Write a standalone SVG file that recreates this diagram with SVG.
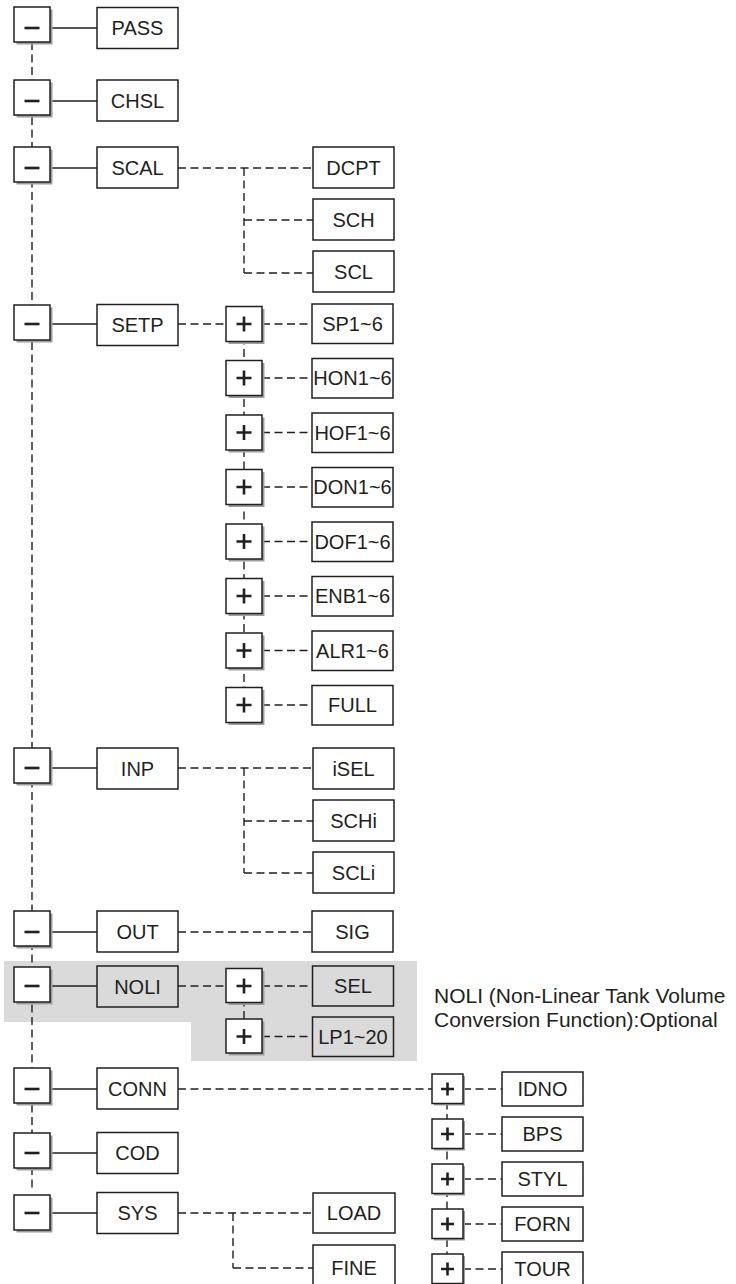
<svg xmlns="http://www.w3.org/2000/svg" width="736" height="1284" viewBox="0 0 736 1284">
<style>
.bx{fill:#fff;stroke:#231f20;stroke-width:1.5}
.gb{fill:none;stroke:#231f20;stroke-width:1.5}
.sh{fill:#9d9d9d}
.g{stroke:#231f20;stroke-width:2.6;fill:none}
.sl{stroke:#231f20;stroke-width:1.5;fill:none}
.dl{stroke:#231f20;stroke-width:1.4;fill:none;stroke-dasharray:8 4.5}
text{font-family:"Liberation Sans",Arial,sans-serif;font-size:20px;fill:#231f20;text-anchor:middle}
.note{font-size:21px;text-anchor:start}
</style>
<rect width="736" height="1284" fill="#fff"/>
<path d="M4 961H417V1061H191V1022H4Z" fill="#dadada"/>

<g id="connectors">
  <line class="dl" x1="32" y1="42" x2="32" y2="1192"/>
  <line class="sl" x1="50" y1="28" x2="97" y2="28"/>
  <line class="sl" x1="50" y1="101" x2="97" y2="101"/>
  <line class="sl" x1="50" y1="168" x2="97" y2="168"/>
  <line class="sl" x1="50" y1="324" x2="97" y2="324"/>
  <line class="sl" x1="50" y1="768" x2="97" y2="768"/>
  <line class="sl" x1="50" y1="932" x2="97" y2="932"/>
  <line class="sl" x1="50" y1="986" x2="97" y2="986"/>
  <line class="sl" x1="50" y1="1089" x2="97" y2="1089"/>
  <line class="sl" x1="50" y1="1153" x2="97" y2="1153"/>
  <line class="sl" x1="50" y1="1213" x2="97" y2="1213"/>
  <!-- SCAL -->
  <line class="dl" x1="178" y1="168" x2="313" y2="168"/>
  <line class="dl" x1="244" y1="168" x2="244" y2="273"/>
  <line class="dl" x1="244" y1="220" x2="313" y2="220"/>
  <line class="dl" x1="244" y1="273" x2="313" y2="273"/>
  <!-- SETP -->
  <line class="dl" x1="178" y1="324" x2="226" y2="324"/>
  <line class="dl" x1="244" y1="324" x2="244" y2="705"/>
  <line class="dl" x1="262" y1="324" x2="313" y2="324"/>
  <line class="dl" x1="262" y1="378" x2="313" y2="378"/>
  <line class="dl" x1="262" y1="432.5" x2="313" y2="432.5"/>
  <line class="dl" x1="262" y1="487" x2="313" y2="487"/>
  <line class="dl" x1="262" y1="541.5" x2="313" y2="541.5"/>
  <line class="dl" x1="262" y1="596" x2="313" y2="596"/>
  <line class="dl" x1="262" y1="650.5" x2="313" y2="650.5"/>
  <line class="dl" x1="262" y1="705" x2="313" y2="705"/>
  <!-- INP -->
  <line class="dl" x1="178" y1="768" x2="313" y2="768"/>
  <line class="dl" x1="244" y1="768" x2="244" y2="873"/>
  <line class="dl" x1="244" y1="821" x2="313" y2="821"/>
  <line class="dl" x1="244" y1="873" x2="313" y2="873"/>
  <!-- OUT -->
  <line class="dl" x1="178" y1="932" x2="312" y2="932"/>
  <!-- NOLI -->
  <line class="dl" x1="178" y1="986" x2="226" y2="986"/>
  <line class="dl" x1="244" y1="986" x2="244" y2="1036"/>
  <line class="dl" x1="262" y1="986" x2="313" y2="986"/>
  <line class="dl" x1="262" y1="1036.5" x2="313" y2="1036.5"/>
  <!-- CONN -->
  <line class="dl" x1="178" y1="1089" x2="432" y2="1089"/>
  <line class="dl" x1="447" y1="1089" x2="447" y2="1269"/>
  <line class="dl" x1="463" y1="1089" x2="502" y2="1089"/>
  <line class="dl" x1="463" y1="1134" x2="502" y2="1134"/>
  <line class="dl" x1="463" y1="1179" x2="502" y2="1179"/>
  <line class="dl" x1="463" y1="1224" x2="502" y2="1224"/>
  <line class="dl" x1="463" y1="1269" x2="502" y2="1269"/>
  <!-- SYS -->
  <line class="dl" x1="178" y1="1213" x2="313" y2="1213"/>
  <line class="dl" x1="233" y1="1213" x2="233" y2="1268"/>
  <line class="dl" x1="233" y1="1268" x2="313" y2="1268"/>
</g>

<!-- minus toggles -->
<g id="m-pass"><rect class="sh" x="16.5" y="9.5" width="36" height="35"/><rect class="bx" x="14" y="7" width="36" height="35"/><line class="g" x1="24.5" y1="28" x2="39.5" y2="28"/></g>
<g id="m-chsl"><rect class="sh" x="16.5" y="82.5" width="36" height="35"/><rect class="bx" x="14" y="80" width="36" height="35"/><line class="g" x1="24.5" y1="101" x2="39.5" y2="101"/></g>
<g id="m-scal"><rect class="sh" x="16.5" y="149.5" width="36" height="35"/><rect class="bx" x="14" y="147" width="36" height="35"/><line class="g" x1="24.5" y1="168" x2="39.5" y2="168"/></g>
<g id="m-setp"><rect class="sh" x="16.5" y="307.5" width="36" height="35"/><rect class="bx" x="14" y="305" width="36" height="35"/><line class="g" x1="24.5" y1="324" x2="39.5" y2="324"/></g>
<g id="m-inp"><rect class="sh" x="16.5" y="750.5" width="36" height="35"/><rect class="bx" x="14" y="748" width="36" height="35"/><line class="g" x1="24.5" y1="768" x2="39.5" y2="768"/></g>
<g id="m-out"><rect class="sh" x="16.5" y="913.5" width="36" height="35"/><rect class="bx" x="14" y="911" width="36" height="35"/><line class="g" x1="24.5" y1="932" x2="39.5" y2="932"/></g>
<g id="m-noli"><rect class="sh" x="16.5" y="969.5" width="36" height="35"/><rect class="bx" x="14" y="967" width="36" height="35"/><line class="g" x1="24.5" y1="986" x2="39.5" y2="986"/></g>
<g id="m-conn"><rect class="sh" x="16.5" y="1070.5" width="36" height="35"/><rect class="bx" x="14" y="1068" width="36" height="35"/><line class="g" x1="24.5" y1="1089" x2="39.5" y2="1089"/></g>
<g id="m-cod"><rect class="sh" x="16.5" y="1135.5" width="36" height="35"/><rect class="bx" x="14" y="1133" width="36" height="35"/><line class="g" x1="24.5" y1="1153" x2="39.5" y2="1153"/></g>
<g id="m-sys"><rect class="sh" x="16.5" y="1197.5" width="36" height="35"/><rect class="bx" x="14" y="1195" width="36" height="35"/><line class="g" x1="24.5" y1="1213" x2="39.5" y2="1213"/></g>

<!-- main nodes -->
<g id="n-pass"><rect class="bx" x="97" y="7.5" width="81" height="41"/><text x="137.5" y="35">PASS</text></g>
<g id="n-chsl"><rect class="bx" x="97" y="80" width="81" height="41"/><text x="137.5" y="108">CHSL</text></g>
<g id="n-scal"><rect class="bx" x="97" y="147" width="81" height="41"/><text x="137.5" y="175">SCAL</text></g>
<g id="n-setp"><rect class="bx" x="97" y="304.5" width="81" height="41"/><text x="137.5" y="332">SETP</text></g>
<g id="n-inp"><rect class="bx" x="97" y="748" width="81" height="41"/><text x="137.5" y="776">INP</text></g>
<g id="n-out"><rect class="bx" x="97" y="911" width="81" height="41"/><text x="137.5" y="939">OUT</text></g>
<g id="n-noli"><rect class="gb" x="97" y="966" width="81" height="41"/><text x="137.5" y="994">NOLI</text></g>
<g id="n-conn"><rect class="bx" x="97" y="1068" width="81" height="41"/><text x="137.5" y="1096">CONN</text></g>
<g id="n-cod"><rect class="bx" x="97" y="1132.5" width="81" height="41"/><text x="137.5" y="1160">COD</text></g>
<g id="n-sys"><rect class="bx" x="97" y="1192.5" width="81" height="41"/><text x="137.5" y="1220">SYS</text></g>

<!-- SCAL children -->
<g id="n-dcpt"><rect class="bx" x="313" y="147" width="81" height="41"/><text x="353.5" y="175">DCPT</text></g>
<g id="n-sch"><rect class="bx" x="313" y="199" width="81" height="41"/><text x="353.5" y="227">SCH</text></g>
<g id="n-scl"><rect class="bx" x="313" y="251" width="81" height="41"/><text x="353.5" y="279">SCL</text></g>

<!-- SETP plus toggles -->
<g id="p-sp"><rect class="sh" x="228.5" y="309" width="36" height="35"/><rect class="bx" x="226" y="306.5" width="36" height="35"/><path class="g" d="M236.5 324H251.5M244 316.5V331.5"/></g>
<g id="p-hon"><rect class="sh" x="228.5" y="363" width="36" height="35"/><rect class="bx" x="226" y="360.5" width="36" height="35"/><path class="g" d="M236.5 378H251.5M244 370.5V385.5"/></g>
<g id="p-hof"><rect class="sh" x="228.5" y="417.5" width="36" height="35"/><rect class="bx" x="226" y="415" width="36" height="35"/><path class="g" d="M236.5 432.5H251.5M244 425V440"/></g>
<g id="p-don"><rect class="sh" x="228.5" y="472" width="36" height="35"/><rect class="bx" x="226" y="469.5" width="36" height="35"/><path class="g" d="M236.5 487H251.5M244 479.5V494.5"/></g>
<g id="p-dof"><rect class="sh" x="228.5" y="526.5" width="36" height="35"/><rect class="bx" x="226" y="524" width="36" height="35"/><path class="g" d="M236.5 541.5H251.5M244 534V549"/></g>
<g id="p-enb"><rect class="sh" x="228.5" y="581" width="36" height="35"/><rect class="bx" x="226" y="578.5" width="36" height="35"/><path class="g" d="M236.5 596H251.5M244 588.5V603.5"/></g>
<g id="p-alr"><rect class="sh" x="228.5" y="635.5" width="36" height="35"/><rect class="bx" x="226" y="633" width="36" height="35"/><path class="g" d="M236.5 650.5H251.5M244 643V658"/></g>
<g id="p-full"><rect class="sh" x="228.5" y="690" width="36" height="35"/><rect class="bx" x="226" y="687.5" width="36" height="35"/><path class="g" d="M236.5 705H251.5M244 697.5V712.5"/></g>

<!-- SETP children -->
<g id="n-sp"><rect class="bx" x="312" y="304" width="81" height="39.5"/><text x="352.5" y="331">SP1~6</text></g>
<g id="n-hon"><rect class="bx" x="312" y="358.5" width="81" height="39.5"/><text x="352.5" y="385">HON1~6</text></g>
<g id="n-hof"><rect class="bx" x="312" y="413" width="81" height="39.5"/><text x="352.5" y="439.5">HOF1~6</text></g>
<g id="n-don"><rect class="bx" x="312" y="467.5" width="81" height="39.5"/><text x="352.5" y="494">DON1~6</text></g>
<g id="n-dof"><rect class="bx" x="312" y="522" width="81" height="39.5"/><text x="352.5" y="548.5">DOF1~6</text></g>
<g id="n-enb"><rect class="bx" x="312" y="576.5" width="81" height="39.5"/><text x="352.5" y="603">ENB1~6</text></g>
<g id="n-alr"><rect class="bx" x="312" y="631" width="81" height="39.5"/><text x="352.5" y="657.5">ALR1~6</text></g>
<g id="n-full"><rect class="bx" x="312" y="685.5" width="81" height="39.5"/><text x="352.5" y="712">FULL</text></g>

<!-- INP children -->
<g id="n-isel"><rect class="bx" x="313" y="748" width="81" height="41"/><text x="353.5" y="776">iSEL</text></g>
<g id="n-schi"><rect class="bx" x="313" y="800" width="81" height="41"/><text x="353.5" y="828">SCHi</text></g>
<g id="n-scli"><rect class="bx" x="313" y="852" width="81" height="41"/><text x="353.5" y="880">SCLi</text></g>

<!-- OUT child -->
<g id="n-sig"><rect class="bx" x="312" y="911" width="81" height="41"/><text x="352.5" y="939">SIG</text></g>

<!-- NOLI -->
<g id="p-sel"><rect class="sh" x="228.5" y="971" width="36" height="34"/><rect class="bx" x="226" y="968.5" width="36" height="34"/><path class="g" d="M236.5 986H251.5M244 978.5V993.5"/></g>
<g id="p-lp"><rect class="sh" x="228.5" y="1021.5" width="36" height="34"/><rect class="bx" x="226" y="1019" width="36" height="34"/><path class="g" d="M236.5 1036.5H251.5M244 1029V1044"/></g>
<g id="n-sel"><rect class="gb" x="312.5" y="966" width="81" height="40"/><text x="353" y="993">SEL</text></g>
<g id="n-lp"><rect class="gb" x="312.5" y="1017" width="81" height="39.5"/><text x="353" y="1043.5">LP1~20</text></g>
<g id="note"><text class="note" x="434" y="1003">NOLI (Non-Linear Tank Volume</text><text class="note" x="434" y="1027">Conversion Function):Optional</text></g>

<!-- CONN children -->
<g id="p-idno"><rect class="sh" x="434" y="1076" width="31" height="29.5"/><rect class="bx" x="432" y="1074" width="31" height="29.5"/><path class="g" d="M441 1089H454M447.5 1082.5V1095.5"/></g>
<g id="p-bps"><rect class="sh" x="434" y="1121" width="31" height="29.5"/><rect class="bx" x="432" y="1119" width="31" height="29.5"/><path class="g" d="M441 1134H454M447.5 1127.5V1140.5"/></g>
<g id="p-styl"><rect class="sh" x="434" y="1166" width="31" height="29.5"/><rect class="bx" x="432" y="1164" width="31" height="29.5"/><path class="g" d="M441 1179H454M447.5 1172.5V1185.5"/></g>
<g id="p-forn"><rect class="sh" x="434" y="1211" width="31" height="29.5"/><rect class="bx" x="432" y="1209" width="31" height="29.5"/><path class="g" d="M441 1224H454M447.5 1217.5V1230.5"/></g>
<g id="p-tour"><rect class="sh" x="434" y="1256" width="31" height="29.5"/><rect class="bx" x="432" y="1254" width="31" height="29.5"/><path class="g" d="M441 1269H454M447.5 1262.5V1275.5"/></g>
<g id="n-idno"><rect class="bx" x="502" y="1072" width="81" height="34"/><text x="542.5" y="1096">IDNO</text></g>
<g id="n-bps"><rect class="bx" x="502" y="1117" width="81" height="34"/><text x="542.5" y="1141">BPS</text></g>
<g id="n-styl"><rect class="bx" x="502" y="1162" width="81" height="34"/><text x="542.5" y="1186">STYL</text></g>
<g id="n-forn"><rect class="bx" x="502" y="1207" width="81" height="34"/><text x="542.5" y="1231">FORN</text></g>
<g id="n-tour"><rect class="bx" x="502" y="1252" width="81" height="40"/><text x="542.5" y="1276">TOUR</text></g>

<!-- SYS children -->
<g id="n-load"><rect class="bx" x="313" y="1193" width="82" height="40"/><text x="354" y="1220">LOAD</text></g>
<g id="n-fine"><rect class="bx" x="313" y="1245" width="82" height="45"/><text x="354" y="1275">FINE</text></g>
</svg>
